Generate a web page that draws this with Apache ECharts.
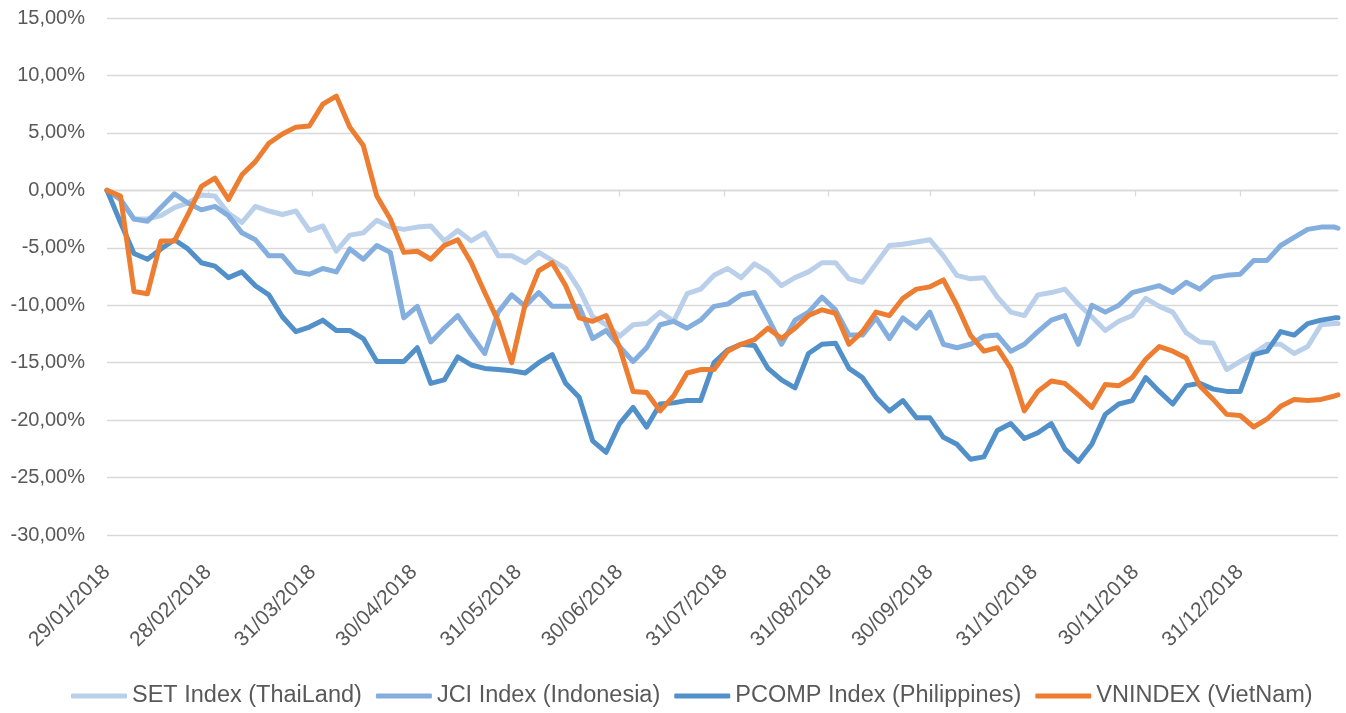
<!DOCTYPE html>
<html>
<head>
<meta charset="utf-8">
<title>ASEAN indices 2018</title>
<script src="https://cdn.jsdelivr.net/npm/echarts@6/dist/echarts.min.js"></script>
<style>
    html, body { margin: 0; padding: 0; background: #fff; }
    #chartDiv { width: 1346px; height: 713px; }
</style>
</head>
<body>
<div id="chartDiv"></div>
<script>
// ngay lay mau (moi 4 ngay), gia tri tinh theo % so voi 29/01/2018
var dates = [
    '29/01/2018', '02/02/2018', '06/02/2018', '10/02/2018', '14/02/2018', '18/02/2018', '22/02/2018', '26/02/2018',
    '02/03/2018', '06/03/2018', '10/03/2018', '14/03/2018', '18/03/2018', '22/03/2018', '26/03/2018', '30/03/2018',
    '03/04/2018', '07/04/2018', '11/04/2018', '15/04/2018', '19/04/2018', '23/04/2018', '27/04/2018', '01/05/2018',
    '05/05/2018', '09/05/2018', '13/05/2018', '17/05/2018', '21/05/2018', '25/05/2018', '29/05/2018', '02/06/2018',
    '06/06/2018', '10/06/2018', '14/06/2018', '18/06/2018', '22/06/2018', '26/06/2018', '30/06/2018', '04/07/2018',
    '08/07/2018', '12/07/2018', '16/07/2018', '20/07/2018', '24/07/2018', '28/07/2018', '01/08/2018', '05/08/2018',
    '09/08/2018', '13/08/2018', '17/08/2018', '21/08/2018', '25/08/2018', '29/08/2018', '02/09/2018', '06/09/2018',
    '10/09/2018', '14/09/2018', '18/09/2018', '22/09/2018', '26/09/2018', '30/09/2018', '04/10/2018', '08/10/2018',
    '12/10/2018', '16/10/2018', '20/10/2018', '24/10/2018', '28/10/2018', '01/11/2018', '05/11/2018', '09/11/2018',
    '13/11/2018', '17/11/2018', '21/11/2018', '25/11/2018', '29/11/2018', '03/12/2018', '07/12/2018', '11/12/2018',
    '15/12/2018', '19/12/2018', '23/12/2018', '27/12/2018', '31/12/2018', '04/01/2019', '08/01/2019', '12/01/2019',
    '16/01/2019', '20/01/2019', '24/01/2019', '28/01/2019', '29/01/2019'
];

var tickDates = ['29/01/2018', '28/02/2018', '31/03/2018', '30/04/2018', '31/05/2018', '30/06/2018',
    '31/07/2018', '31/08/2018', '30/09/2018', '31/10/2018', '30/11/2018', '31/12/2018'];

var seriesNames = ['SET Index (ThaiLand)', 'JCI Index (Indonesia)', 'PCOMP Index (Philippines)', 'VNINDEX (VietNam)'];

var setThai = [
    0, -0.8, -2.5, -2.5, -2.2, -1.5, -1.1, -0.4, -0.5, -2.0, -2.8, -1.4, -1.8, -2.1, -1.8, -3.5,
    -3.1, -5.3, -3.9, -3.7, -2.6, -3.2, -3.4, -3.2, -3.1, -4.4, -3.5, -4.4, -3.7, -5.7, -5.7, -6.3,
    -5.4, -6.1, -6.8, -8.6, -11.0, -11.7, -12.7, -11.7, -11.6, -10.6, -11.4, -9.0, -8.6, -7.4, -6.8, -7.6,
    -6.4, -7.1, -8.3, -7.6, -7.1, -6.3, -6.3, -7.7, -8.0, -6.4, -4.8, -4.7, -4.5, -4.3, -5.7, -7.4,
    -7.7, -7.6, -9.3, -10.6, -10.9, -9.1, -8.9, -8.6, -9.9, -11.0, -12.2, -11.4, -10.9, -9.4, -10.1, -10.6,
    -12.4, -13.2, -13.3, -15.6, -14.9, -14.2, -13.4, -13.4, -14.2, -13.6, -11.7, -11.6, -11.6
];
var jciIndo = [
    0, -0.8, -2.5, -2.7, -1.5, -0.3, -1.1, -1.7, -1.4, -2.2, -3.7, -4.3, -5.7, -5.7, -7.1, -7.3,
    -6.8, -7.1, -5.1, -6.0, -4.8, -5.4, -11.1, -10.1, -13.2, -12.0, -10.9, -12.6, -14.2, -10.6, -9.1, -10.1,
    -8.9, -10.1, -10.1, -10.1, -12.9, -12.2, -13.6, -14.9, -13.7, -11.7, -11.4, -12.0, -11.3, -10.1, -9.9, -9.1,
    -8.9, -11.1, -13.4, -11.3, -10.6, -9.3, -10.4, -12.6, -12.6, -11.1, -12.9, -11.1, -12.0, -10.6, -13.4, -13.7,
    -13.4, -12.7, -12.6, -14.0, -13.4, -12.3, -11.3, -10.9, -13.4, -10.0, -10.6, -10.0, -8.9, -8.6, -8.3, -8.9,
    -8.0, -8.6, -7.6, -7.4, -7.3, -6.1, -6.1, -4.8, -4.1, -3.4, -3.2, -3.2, -3.3
];
var pcompPhil = [
    0, -2.8, -5.5, -6.0, -5.1, -4.3, -5.1, -6.3, -6.6, -7.6, -7.1, -8.3, -9.1, -11.0, -12.3, -11.9,
    -11.3, -12.2, -12.2, -12.9, -14.9, -14.9, -14.9, -13.7, -16.8, -16.5, -14.5, -15.2, -15.5, -15.6, -15.7, -15.9,
    -15.0, -14.3, -16.8, -18.0, -21.8, -22.8, -20.3, -18.9, -20.6, -18.6, -18.5, -18.3, -18.3, -15.0, -13.9, -13.4,
    -13.5, -15.5, -16.5, -17.2, -14.2, -13.4, -13.3, -15.5, -16.3, -18.0, -19.2, -18.3, -19.8, -19.8, -21.5, -22.1,
    -23.4, -23.2, -20.9, -20.3, -21.6, -21.1, -20.3, -22.5, -23.6, -22.1, -19.5, -18.6, -18.3, -16.3, -17.5, -18.6,
    -17.0, -16.8, -17.3, -17.5, -17.5, -14.3, -14.0, -12.3, -12.6, -11.6, -11.3, -11.1, -11.1
];
var vnIndex = [
    0, -0.5, -8.8, -9.0, -4.4, -4.4, -2.1, 0.35, 1.06, -0.8, 1.35, 2.5, 4.1, 4.9, 5.5, 5.6,
    7.5, 8.2, 5.5, 3.9, -0.5, -2.5, -5.4, -5.3, -6.0, -4.8, -4.3, -6.3, -8.9, -11.4, -15.0, -9.9,
    -7.0, -6.3, -8.3, -11.1, -11.4, -10.9, -13.7, -17.5, -17.6, -19.2, -17.9, -15.9, -15.6, -15.6, -14.0, -13.4,
    -13.0, -12.0, -12.9, -12.0, -10.9, -10.4, -10.7, -13.4, -12.3, -10.6, -10.9, -9.4, -8.6, -8.4, -7.8, -10.0,
    -12.6, -14.0, -13.7, -15.5, -19.2, -17.5, -16.6, -16.8, -17.8, -18.9, -16.9, -17.0, -16.3, -14.7, -13.6, -14.0,
    -14.6, -17.0, -18.2, -19.5, -19.6, -20.6, -19.9, -18.8, -18.2, -18.3, -18.2, -17.9, -17.8
];

var colors = ['#B9CFEA', '#84AEDD', '#5290C9', '#ED7D31'];
var textColor = '#595959';
var gridColor = '#D9D9D9';

var startDate = Date.UTC(2018, 0, 29);
function toDay(s) {
    var p = s.split('/');
    return Math.round((Date.UTC(+p[2], +p[1] - 1, +p[0]) - startDate) / 86400000);
}
function dayToLabel(d) {
    var t = new Date(startDate + d * 86400000);
    var dd = ('0' + t.getUTCDate()).slice(-2);
    var mm = ('0' + (t.getUTCMonth() + 1)).slice(-2);
    return dd + '/' + mm + '/' + t.getUTCFullYear();
}
function pairs(arr) {
    return dates.map(function (d, i) { return [toDay(d), arr[i]]; });
}

var dayMax = toDay(dates[dates.length - 1]);
var tickDays = tickDates.map(toDay);
var allValues = [setThai, jciIndo, pcompPhil, vnIndex];

var option = {
    animation: false,
    color: colors,
    grid: { left: 107, right: 8, top: 18, bottom: 178, containLabel: false },
    legend: {
        bottom: 0,
        left: 66,
        icon: 'roundRect',
        itemWidth: 56,
        itemHeight: 5,
        itemGap: 14,
        textStyle: { fontFamily: 'Liberation Sans, Arial', fontSize: 23.5, color: textColor },
        data: seriesNames
    },
    xAxis: [
        {
            // truc tai 0% chi ve vach chia
            type: 'value',
            min: 0,
            max: dayMax,
            axisLine: { show: true, onZero: true, lineStyle: { color: gridColor, width: 1.3 } },
            axisTick: { show: true, customValues: tickDays, length: 6, lineStyle: { color: gridColor, width: 1.3 } },
            axisLabel: { show: false },
            splitLine: { show: false }
        },
        {
            // nhan ngay o duoi cung
            type: 'value',
            position: 'bottom',
            min: 0,
            max: dayMax,
            axisLine: { show: false, onZero: false },
            axisTick: { show: false },
            splitLine: { show: false },
            axisLabel: {
                customValues: tickDays,
                rotate: 45,
                margin: 34,
                fontFamily: 'Liberation Sans, Arial',
                fontSize: 21,
                color: textColor,
                formatter: function (v) { return dayToLabel(v); }
            }
        }
    ],
    yAxis: {
        type: 'value',
        min: -30,
        max: 15,
        interval: 5,
        axisLine: { show: false },
        axisTick: { show: false },
        splitLine: { lineStyle: { color: gridColor, width: 1.3 } },
        axisLabel: {
            margin: 22,
            fontFamily: 'Liberation Sans, Arial',
            fontSize: 20,
            color: textColor,
            formatter: function (v) { return v.toFixed(2).replace('.', ',') + '%'; }
        }
    },
    series: seriesNames.map(function (name, i) {
        return {
            name: name,
            type: 'line',
            xAxisIndex: 0,
            showSymbol: false,
            symbol: 'none',
            lineStyle: { width: 5, cap: 'round', join: 'round' },
            data: pairs(allValues[i])
        };
    })
};

var myChart = echarts.init(document.getElementById('chartDiv'));
myChart.setOption(option);
</script>
</body>
</html>
